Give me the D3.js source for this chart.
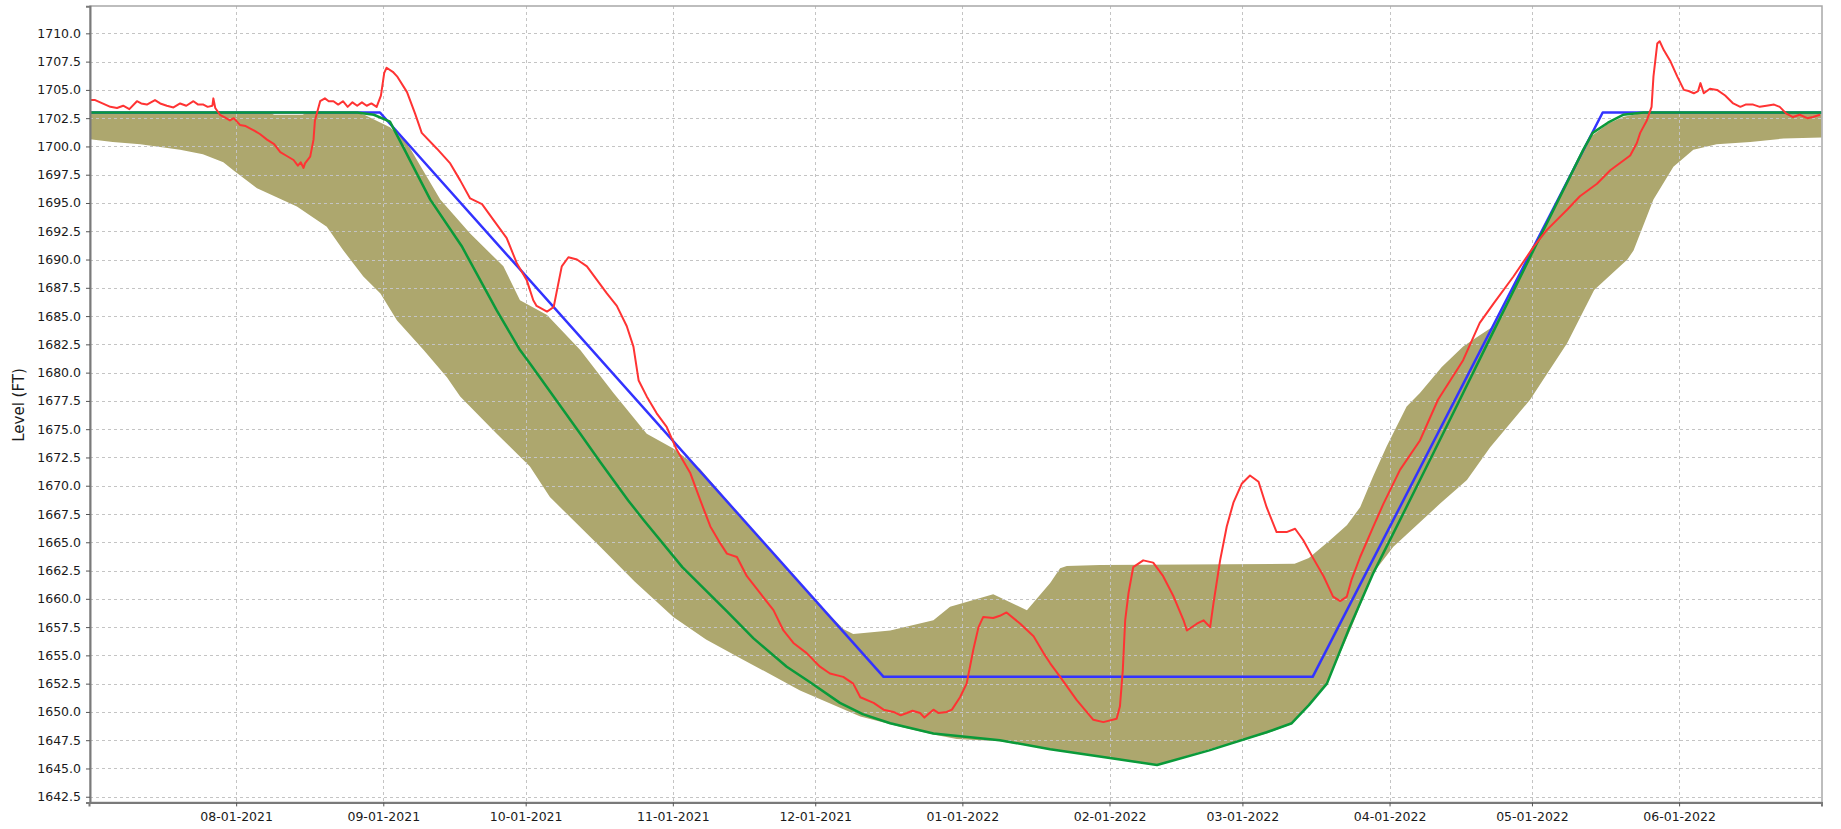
<!DOCTYPE html>
<html>
<head>
<meta charset="utf-8">
<script src="https://cdn.jsdelivr.net/npm/d3@7"></script>
<style>
  html, body { margin: 0; padding: 0; background: #fff; }
  svg { display: block; }
  text { font-family: "DejaVu Sans", sans-serif; fill: #1a1a1a; }
</style>
</head>
<body>
<svg id="chart" width="1841" height="829"></svg>
<script>
// ---- Data (x = days since 2021-07-01, y = level in FT) ----
const startDate = "2021-07-01";
const endDay = 365;

const yTickValues = d3.range(1642.5, 1710.01, 2.5);
const monthTickLabels = ["08-01-2021","09-01-2021","10-01-2021","11-01-2021","12-01-2021",
  "01-01-2022","02-01-2022","03-01-2022","04-01-2022","05-01-2022","06-01-2022"];

// Upper edge of the olive band
const bandUpper = [
  [0,1703.0],[38,1703.0],[39,1702.8],[45,1702.8],[46,1703.0],[56,1703.0],[58,1702.8],
  [63.4,1701.7],[67,1700.3],[69.8,1698.3],[74,1695.3],[80.3,1692.3],[87.3,1689.4],
  [90.8,1686.4],[96.5,1685.1],[103.5,1682.0],[110.5,1678.2],[117.5,1674.6],[123.1,1673.3],
  [128.7,1671.5],[140,1666.0],[150,1661.3],[155,1659.0],[159,1657.3],[161,1656.9],
  [168.8,1657.2],[177.9,1658.1],[181.4,1659.3],[190.5,1660.4],[197.6,1659.0],[202.5,1661.4],
  [204.6,1662.7],[206,1662.9],[213,1663.0],[254,1663.1],[257,1663.6],[261.5,1665.2],
  [265,1666.5],[267.8,1668.1],[270.5,1670.8],[273.4,1673.5],[277.6,1677.0],[280.4,1678.2],
  [285,1680.5],[289.5,1682.3],[293,1683.3],[295.9,1684.1],[300,1687.2],[305,1691.4],
  [310,1695.7],[314.8,1699.7],[316.8,1701.0],[320,1702.0],[323.2,1702.6],[327.5,1703.0],
  [365,1703.0]
];
// Lower edge of the olive band
const bandLower = [
  [0,1700.65],[5,1700.4],[10.8,1700.2],[19.2,1699.7],[24,1699.3],[28.3,1698.6],[30.4,1697.9],
  [35.4,1696.3],[43.8,1694.7],[50.1,1692.9],[53.6,1690.8],[57.8,1688.5],[61.4,1687.0],
  [64.9,1684.6],[70.5,1682.0],[75.4,1679.6],[78.2,1677.9],[85.9,1674.6],[92.9,1671.7],
  [97.1,1669.0],[107.7,1664.6],[115,1661.5],[123.1,1658.4],[130,1656.4],[137.9,1654.6],
  [149.8,1651.9],[162.5,1649.6],[170.9,1648.7],[177.9,1648.0],[182.8,1647.6],[191.9,1647.4],
  [202.5,1646.7],[214,1646.0],[225,1645.3],[236,1646.7],[248.1,1648.1],[253.4,1648.9],
  [260.8,1652.5],[266,1657.5],[270.6,1662.3],[274.8,1664.6],[284.6,1668.4],[290.3,1670.5],
  [295.2,1673.4],[303.6,1677.6],[311.4,1682.6],[317.1,1687.3],[324.1,1690.0],[325.4,1690.8],
  [329.6,1695.3],[333.8,1698.2],[338,1699.7],[342.9,1700.2],[350,1700.4],[357,1700.7],
  [365,1700.8]
];
// Blue guide curve
const blueCurve = [
  [0,1703.0],[61.3,1703.0],[167.4,1653.1],[257.8,1653.1],[318.9,1703.0],[365,1703.0]
];
// Green curve
const greenCurve = [
  [0,1703.0],[56.5,1703.0],[60,1702.8],[63.4,1702.2],[66.5,1699.7],[69.8,1697.0],[71.9,1695.3],
  [78.5,1691.2],[85.9,1685.5],[90.8,1682.0],[92.9,1680.8],[103.5,1674.6],[107.7,1672.1],
  [113.6,1668.7],[116.8,1667.0],[125,1662.8],[134.4,1658.9],[140,1656.5],[147,1654.0],
  [152,1652.6],[158.2,1650.8],[163,1649.8],[168.8,1649.0],[177.9,1648.1],[191.9,1647.5],
  [202.5,1646.7],[214,1646.0],[225,1645.3],[236,1646.6],[248.1,1648.2],[253.4,1649.0],
  [257,1650.6],[260.8,1652.5],[265.5,1657.4],[270.6,1662.3],[276,1666.8],[283.6,1673.2],
  [288.8,1677.6],[295,1682.9],[305,1691.4],[314.8,1699.7],[316.8,1701.2],[320,1702.1],
  [323.2,1702.8],[327.5,1703.0],[365,1703.0]
];
// Red observed level
const redLevel = [
  [0,1704.1],[1.3,1704.1],[4.5,1703.5],[5.9,1703.4],[7.2,1703.6],[8.5,1703.3],[10.1,1704.0],
  [11,1703.8],[12.2,1703.7],[13.9,1704.1],[15,1703.8],[16.4,1703.6],[17.8,1703.45],[19.2,1703.8],
  [20.5,1703.6],[22,1704.0],[23,1703.7],[24.1,1703.7],[25,1703.5],[26,1703.6],[26.2,1704.25],
  [26.6,1703.4],[27.6,1702.8],[28.5,1702.6],[29.7,1702.3],[30.5,1702.5],[31.8,1701.9],
  [33,1701.8],[34.6,1701.45],[36,1701.1],[37.5,1700.6],[39,1700.2],[40.3,1699.5],[41.5,1699.2],
  [43.1,1698.8],[44,1698.3],[44.6,1698.6],[45.2,1698.1],[45.5,1698.5],[46.6,1699.1],
  [47.3,1700.6],[47.6,1702.3],[48.7,1704.0],[49.7,1704.25],[50.5,1704.0],[51.5,1704.0],
  [52.5,1703.7],[53.5,1704.0],[54.5,1703.5],[55.5,1703.9],[56.5,1703.6],[57.5,1703.9],
  [58.5,1703.6],[59.5,1703.8],[60.6,1703.5],[61.5,1704.5],[62.2,1706.5],[62.7,1706.96],
  [64,1706.6],[64.9,1706.2],[67,1704.8],[68.7,1702.9],[70.1,1701.2],[73.3,1699.8],
  [76.1,1698.5],[78.2,1697.0],[80.3,1695.4],[82.8,1694.9],[85.2,1693.5],[88,1691.9],
  [90.1,1689.7],[92.2,1688.2],[93.6,1686.4],[94.3,1685.9],[96.5,1685.4],[97.9,1685.8],
  [98.6,1687.3],[99.6,1689.4],[101,1690.2],[102.8,1690.0],[104.9,1689.4],[107,1688.2],
  [109.1,1687.0],[111.2,1685.9],[113.3,1684.1],[114.7,1682.3],[115.8,1679.3],[117.5,1677.9],
  [119.6,1676.4],[121.7,1675.2],[123.8,1673.2],[126.7,1671.1],[128.8,1668.7],[130.9,1666.4],
  [133,1664.9],[134.4,1664.0],[136.5,1663.7],[138.6,1662.0],[141.4,1660.5],[144.2,1659.0],
  [146.3,1657.2],[148.4,1656.1],[151.2,1655.2],[154,1654.0],[156.1,1653.4],[158.9,1653.1],
  [161,1652.5],[162.5,1651.3],[165.3,1650.8],[167.4,1650.2],[169.5,1650.0],[171,1649.7],
  [172.3,1649.9],[173.5,1650.1],[175.1,1649.9],[176,1649.5],[177.9,1650.2],[179,1649.9],
  [180.7,1650.0],[181.8,1650.2],[183.5,1651.3],[184.9,1652.5],[185.6,1654.0],[186.3,1655.5],
  [187.4,1657.5],[188.4,1658.4],[190.5,1658.3],[191.9,1658.5],[193.3,1658.8],[196.2,1657.8],
  [199,1656.7],[201.1,1655.2],[202.5,1654.3],[204.6,1653.1],[208.1,1651.05],[211.6,1649.3],
  [213.7,1649.1],[216.5,1649.4],[217.2,1650.5],[217.8,1653.7],[218.3,1658.1],[219,1660.5],
  [220,1662.8],[222.1,1663.4],[224.2,1663.2],[226.3,1662.0],[228.5,1660.2],[230.6,1658.1],
  [231.3,1657.2],[233.4,1657.8],[234.8,1658.1],[236.2,1657.5],[236.9,1659.6],[238.3,1663.4],
  [239.7,1666.4],[241.1,1668.5],[242.9,1670.2],[244.6,1670.9],[246.4,1670.35],[248.1,1668.1],
  [250.2,1665.9],[252.3,1665.9],[254.1,1666.2],[255.8,1665.2],[257.9,1663.6],[260.1,1662.0],
  [262.1,1660.2],[263.6,1659.8],[265,1660.2],[266,1661.7],[267.8,1663.7],[270.6,1666.4],
  [272.7,1668.4],[276.2,1671.4],[280.4,1674.0],[284.2,1677.6],[289.5,1681.1],[293,1684.4],
  [295.9,1686.1],[300.1,1688.5],[304.3,1691.1],[307.1,1692.6],[311.4,1694.4],[314.1,1695.6],
  [317.7,1696.7],[320.5,1697.9],[324.7,1699.2],[326.1,1700.3],[326.8,1701.2],[328.2,1702.3],
  [329.2,1703.5],[329.6,1706.2],[330.4,1709.1],[330.9,1709.3],[331.8,1708.5],[333.2,1707.5],
  [334.6,1706.2],[336,1705.0],[337,1704.9],[338.1,1704.7],[339,1704.9],[339.5,1705.6],
  [340.2,1704.7],[341.5,1705.1],[343,1705.0],[344.7,1704.5],[346.4,1703.8],[347.9,1703.5],
  [349,1703.7],[350.6,1703.7],[352,1703.5],[353.4,1703.6],[355,1703.7],[356.2,1703.5],
  [357.6,1702.9],[359,1702.6],[360.4,1702.8],[362,1702.5],[363.2,1702.6],[364.7,1702.8]
];

// ---- Drawing ----
const start = d3.utcParse("%Y-%m-%d")(startDate);
const toDate = d => new Date(start.getTime() + d * 864e5);

const plot = { left: 90, right: 1822, top: 6, bottom: 802.4 };
const x = d3.scaleUtc().domain([toDate(0), toDate(endDay)]).range([89, 1821.5]);
const y = d3.scaleLinear().domain([1642, 1712.4]).range([802.4, 6.2]);

const svg = d3.select("#chart");
svg.append("defs").append("clipPath").attr("id", "clip")
  .append("rect").attr("x", plot.left).attr("y", plot.top)
  .attr("width", plot.right - plot.left).attr("height", plot.bottom - plot.top);

const g = svg.append("g").attr("clip-path", "url(#clip)");

// band
const bandPts = bandUpper.concat(bandLower.slice().reverse());
g.append("path")
  .attr("d", d3.line().x(p => x(toDate(p[0]))).y(p => y(p[1]))(bandPts) + "Z")
  .attr("fill", "#ada76e").attr("stroke", "none");

// grid
const monthTicks = d3.utcMonth.range(d3.utcParse("%Y-%m-%d")("2021-08-01"), d3.utcParse("%Y-%m-%d")("2022-06-02"));
const fmt = d3.utcFormat("%m-%d-%Y");
g.selectAll(".hgrid").data(yTickValues).join("line")
  .attr("x1", plot.left).attr("x2", plot.right)
  .attr("y1", d => Math.round(y(d)) + 0.5).attr("y2", d => Math.round(y(d)) + 0.5)
  .attr("stroke", "#c4c4c4").attr("stroke-width", 1).attr("stroke-dasharray", "3,3");
g.selectAll(".vgrid").data(monthTicks).join("line")
  .attr("y1", plot.top).attr("y2", plot.bottom)
  .attr("x1", d => Math.round(x(d)) + 0.5).attr("x2", d => Math.round(x(d)) + 0.5)
  .attr("stroke", "#c4c4c4").attr("stroke-width", 1).attr("stroke-dasharray", "3,3");

const line = d3.line().x(p => x(toDate(p[0]))).y(p => y(p[1]));
g.append("path").attr("d", line(blueCurve)).attr("fill", "none")
  .attr("stroke", "#3333ff").attr("stroke-width", 2.5).attr("stroke-linejoin", "round");
g.append("path").attr("d", line(greenCurve)).attr("fill", "none")
  .attr("stroke", "#0a9a3a").attr("stroke-width", 2.5).attr("stroke-linejoin", "round");
g.append("path").attr("d", line(redLevel)).attr("fill", "none")
  .attr("stroke", "#ff3333").attr("stroke-width", 2).attr("stroke-linejoin", "round");

// frame
svg.append("rect").attr("x", plot.left).attr("y", plot.top)
  .attr("width", plot.right - plot.left).attr("height", plot.bottom - plot.top)
  .attr("fill", "none").attr("stroke", "#a8a8a8").attr("stroke-width", 1.5);

// axes
const yAxis = d3.axisLeft(y).tickValues(yTickValues).tickFormat(d3.format(".1f"))
  .tickSize(4).tickPadding(5);
const ya = svg.append("g").attr("transform", `translate(${plot.left},0)`).call(yAxis);
const xAxis = d3.axisBottom(x).tickValues(monthTicks).tickFormat((d, i) => monthTickLabels[i])
  .tickSize(4).tickPadding(6);
const xa = svg.append("g").attr("transform", `translate(0,${plot.bottom})`).call(xAxis);
[ya, xa].forEach(a => {
  a.select(".domain").attr("stroke", "#7a7a7a").attr("stroke-width", 2);
  a.selectAll(".tick line").attr("stroke", "#555");
  a.selectAll(".tick text").attr("font-size", "12.5px").attr("fill", "#1a1a1a")
    .attr("font-family", "DejaVu Sans, sans-serif");
});

svg.append("text").attr("transform", "translate(24,405) rotate(-90)")
  .attr("text-anchor", "middle").attr("font-size", "15px").text("Level (FT)");
</script>
</body>
</html>
